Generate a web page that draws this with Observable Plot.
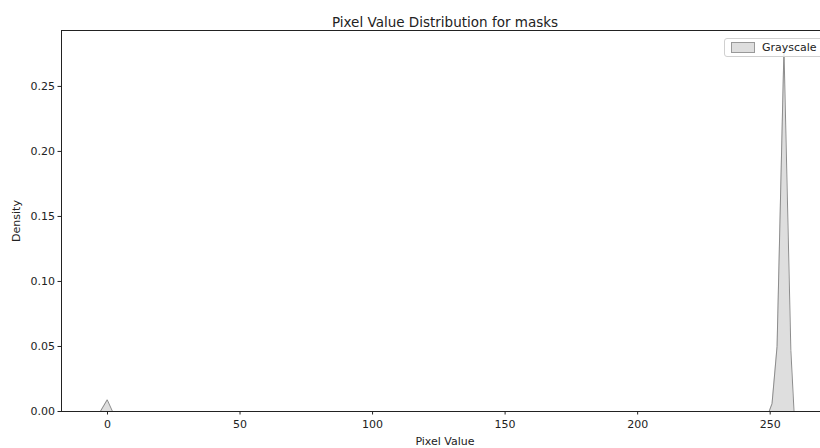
<!DOCTYPE html>
<html>
<head>
<meta charset="utf-8">
<script src="https://cdn.jsdelivr.net/npm/d3@7"></script>
<script src="https://cdn.jsdelivr.net/npm/@observablehq/plot@0.6"></script>
<style>
  html, body { margin: 0; padding: 0; background: white; overflow: hidden; }
  #wrap { position: relative; width: 820px; height: 448px; overflow: hidden; }
  #wrap svg g[aria-label^="x-axis"], #wrap svg g[aria-label^="y-axis"] { font-size: 11px !important; }
  #wrap svg g[aria-label^="x-axis"] text, #wrap svg g[aria-label^="y-axis"] text { font-size: 11px !important; }
  #legend { position: absolute; left: 724px; top: 38px; width: 104px; height: 19px;
    border: 1px solid #d0d0d0; border-radius: 3px; background: rgba(255,255,255,0.85);
    font-family: "DejaVu Sans", sans-serif; font-size: 11px; color: #222; box-sizing: border-box; }
  #legend .sw { position: absolute; left: 6px; top: 3px; width: 22px; height: 9px;
    background: #dedede; border: 1px solid #999; }
  #legend .lb { position: absolute; left: 37px; top: 2px; line-height: 13px; }
</style>
</head>
<body>
<div id="wrap"></div>
<script>
const titleText = "Pixel Value Distribution for masks";
const seriesName = "Grayscale";
const xLabel = "Pixel Value";
const yLabel = "Density";
const xTicks = [0, 50, 100, 150, 200, 250];
const yTicks = [0, 0.05, 0.10, 0.15, 0.20, 0.25];
// KDE curve vertices
const pixelValues = [-4.2, -2.7, -0.1, 1.9, 249.6, 250.7, 252.6, 255.2, 257.8, 259.0];
const densityValues = [0, 0, 0.009, 0, 0, 0.006, 0.05, 0.279, 0.047, 0];

const data = pixelValues.map((x, i) => ({x, y: densityValues[i]}));

const chart = Plot.plot({
  width: 820,
  height: 448,
  marginLeft: 61,
  marginRight: -8,
  marginTop: 30,
  marginBottom: 37,
  style: {fontFamily: "DejaVu Sans, sans-serif", fontSize: "11px", color: "#222", background: "white"},
  x: {domain: [-17.35, 272]},
  y: {domain: [0, 0.293]},
  marks: [
    Plot.areaY(data, {x: "x", y: "y", fill: "#dedede"}),
    Plot.lineY(data, {x: "x", y: "y", stroke: "#8c8c8c", strokeWidth: 1}),
    Plot.frame({stroke: "#222", strokeWidth: 1}),
    Plot.axisX({ticks: xTicks, tickSize: 3.5, tickPadding: 5, fontSize: 11, label: xLabel, labelAnchor: "center", labelOffset: 33, labelArrow: "none"}),
    Plot.axisY({ticks: yTicks, tickSize: 3.5, tickPadding: 3, fontSize: 11, tickFormat: d3.format(".2f"), label: yLabel, labelAnchor: "center", labelOffset: 49, labelArrow: "none"}),
    Plot.text([titleText], {frameAnchor: "top", text: d => d, dy: -13, fontSize: 13.5, fill: "#222"})
  ]
});
const wrap = document.getElementById("wrap");
wrap.appendChild(chart);
const lg = document.createElement("div");
lg.id = "legend";
lg.innerHTML = '<div class="sw"></div><div class="lb"></div>';
lg.querySelector(".lb").textContent = seriesName;
wrap.appendChild(lg);
</script>
</body>
</html>
